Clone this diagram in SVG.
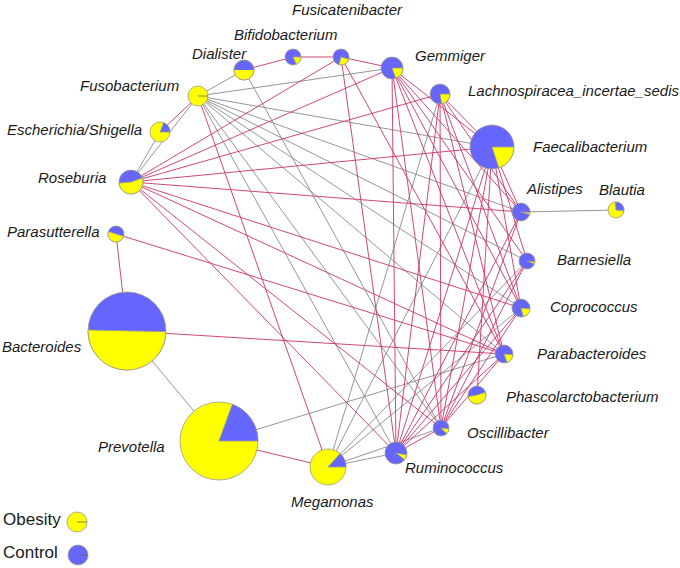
<svg xmlns="http://www.w3.org/2000/svg" width="680" height="568" viewBox="0 0 680 568">
<style>
.bg{fill:#ffffff}
.g line{stroke-width:0.9;fill:none}
.gr{stroke:#8a8a8a}
.rd{stroke:#cc3366}
.b{fill:#6666ff;stroke:#9a9a88;stroke-width:0.8}
.y{fill:#ffff00;stroke:#9a9a88;stroke-width:0.8}
.yw{fill:#ffff00;stroke:none}
.bw{fill:#6666ff;stroke:none}
.sp{stroke:#666;stroke-width:0.8}
.lb{font-family:"Liberation Sans",Arial,sans-serif;font-style:italic;font-size:15px;fill:#1a1a1a}
.lg{font-family:"Liberation Sans",Arial,sans-serif;font-size:17px;fill:#1a1a1a}
</style>
<rect class="bg" x="0" y="0" width="680" height="568"/>
<g id="connectors" class="g">
<line class="gr" x1="244" y1="70" x2="198" y2="96"/>
<line class="gr" x1="198" y1="96" x2="131" y2="182"/>
<line class="gr" x1="160" y1="132" x2="131" y2="182"/>
<line class="gr" x1="198" y1="96" x2="392" y2="68"/>
<line class="gr" x1="198" y1="96" x2="492" y2="147"/>
<line class="gr" x1="198" y1="96" x2="521" y2="212"/>
<line class="gr" x1="198" y1="96" x2="527" y2="261"/>
<line class="gr" x1="198" y1="96" x2="521" y2="308"/>
<line class="gr" x1="198" y1="96" x2="504" y2="354"/>
<line class="gr" x1="198" y1="96" x2="441" y2="428"/>
<line class="gr" x1="198" y1="96" x2="396" y2="453"/>
<line class="gr" x1="244" y1="70" x2="441" y2="428"/>
<line class="gr" x1="521" y1="212" x2="616" y2="210"/>
<line class="gr" x1="127" y1="331" x2="219" y2="441"/>
<line class="gr" x1="219" y1="441" x2="504" y2="354"/>
<line class="gr" x1="328" y1="467" x2="396" y2="453"/>
<line class="gr" x1="328" y1="467" x2="441" y2="428"/>
<line class="gr" x1="328" y1="467" x2="440" y2="94"/>
<line class="gr" x1="328" y1="467" x2="492" y2="147"/>
<line class="gr" x1="328" y1="467" x2="521" y2="308"/>
<line class="gr" x1="328" y1="467" x2="527" y2="261"/>
<line class="rd" x1="244" y1="70" x2="293" y2="57"/>
<line class="rd" x1="293" y1="57" x2="341" y2="57"/>
<line class="rd" x1="341" y1="57" x2="392" y2="68"/>
<line class="rd" x1="160" y1="132" x2="198" y2="96"/>
<line class="rd" x1="116" y1="234" x2="127" y2="331"/>
<line class="rd" x1="116" y1="234" x2="504" y2="354"/>
<line class="rd" x1="127" y1="331" x2="504" y2="354"/>
<line class="rd" x1="219" y1="441" x2="328" y2="467"/>
<line class="rd" x1="198" y1="96" x2="328" y2="467"/>
<line class="rd" x1="131" y1="182" x2="341" y2="57"/>
<line class="rd" x1="131" y1="182" x2="392" y2="68"/>
<line class="rd" x1="131" y1="182" x2="440" y2="94"/>
<line class="rd" x1="131" y1="182" x2="492" y2="147"/>
<line class="rd" x1="131" y1="182" x2="521" y2="212"/>
<line class="rd" x1="131" y1="182" x2="521" y2="308"/>
<line class="rd" x1="131" y1="182" x2="504" y2="354"/>
<line class="rd" x1="131" y1="182" x2="441" y2="428"/>
<line class="rd" x1="131" y1="182" x2="396" y2="453"/>
<line class="rd" x1="341" y1="57" x2="396" y2="453"/>
<line class="rd" x1="341" y1="57" x2="504" y2="354"/>
<line class="rd" x1="392" y1="68" x2="492" y2="147"/>
<line class="rd" x1="392" y1="68" x2="521" y2="212"/>
<line class="rd" x1="392" y1="68" x2="527" y2="261"/>
<line class="rd" x1="392" y1="68" x2="521" y2="308"/>
<line class="rd" x1="392" y1="68" x2="504" y2="354"/>
<line class="rd" x1="392" y1="68" x2="441" y2="428"/>
<line class="rd" x1="392" y1="68" x2="396" y2="453"/>
<line class="rd" x1="440" y1="94" x2="492" y2="147"/>
<line class="rd" x1="440" y1="94" x2="521" y2="212"/>
<line class="rd" x1="440" y1="94" x2="521" y2="308"/>
<line class="rd" x1="440" y1="94" x2="504" y2="354"/>
<line class="rd" x1="440" y1="94" x2="441" y2="428"/>
<line class="rd" x1="440" y1="94" x2="396" y2="453"/>
<line class="rd" x1="492" y1="147" x2="521" y2="212"/>
<line class="rd" x1="492" y1="147" x2="527" y2="261"/>
<line class="rd" x1="492" y1="147" x2="521" y2="308"/>
<line class="rd" x1="492" y1="147" x2="441" y2="428"/>
<line class="rd" x1="492" y1="147" x2="396" y2="453"/>
<line class="rd" x1="492" y1="147" x2="477" y2="395"/>
<line class="rd" x1="521" y1="212" x2="396" y2="453"/>
<line class="rd" x1="521" y1="212" x2="441" y2="428"/>
<line class="rd" x1="527" y1="261" x2="396" y2="453"/>
<line class="rd" x1="527" y1="261" x2="441" y2="428"/>
<line class="rd" x1="521" y1="308" x2="396" y2="453"/>
<line class="rd" x1="521" y1="308" x2="441" y2="428"/>
<line class="rd" x1="504" y1="354" x2="396" y2="453"/>
<line class="rd" x1="504" y1="354" x2="441" y2="428"/>
<line class="rd" x1="396" y1="453" x2="441" y2="428"/>
</g>
<g id="Dialister"><circle class="b" cx="244" cy="70" r="10"/><path class="yw" d="M254,70 A10,10 0 0 1 234,70 Z"/><circle cx="244" cy="70" r="10" fill="none" stroke="#9a9a88" stroke-width="0.8"/><text class="lb" x="192" y="59">Dialister</text></g>
<g id="Bifidobacterium"><circle class="b" cx="293" cy="57" r="8"/><path class="y" d="M293,57 L301,57 A8,8 0 0 1 296.38,64.25 Z"/><text class="lb" x="234" y="40">Bifidobacterium</text></g>
<g id="Fusicatenibacter"><circle class="b" cx="341" cy="57" r="8"/><path class="y" d="M341,57 L348.73,59.07 A8,8 0 0 1 338.93,64.73 Z"/><text class="lb" x="292" y="15">Fusicatenibacter</text></g>
<g id="Gemmiger"><circle class="b" cx="392" cy="68" r="11"/><path class="y" d="M392,68 L403,68 A11,11 0 0 1 395.76,78.34 Z"/><text class="lb" x="415" y="61">Gemmiger</text></g>
<g id="Lachnospiracea"><circle class="b" cx="440" cy="94" r="10"/><path class="y" d="M440,94 L450,94 A10,10 0 0 1 441.74,103.85 Z"/><text class="lb" x="468" y="96">Lachnospiracea_incertae_sedis</text></g>
<g id="Faecalibacterium"><circle class="b" cx="492" cy="147" r="22"/><path class="y" d="M492,147 L514,147 A22,22 0 0 1 498.80,167.92 Z"/><text class="lb" x="533" y="152">Faecalibacterium</text></g>
<g id="Alistipes"><circle class="b" cx="521" cy="212" r="9"/><path class="y" d="M521,212 L529.99,212.47 A9,9 0 0 1 529.61,214.63 Z"/><text class="lb" x="527" y="194">Alistipes</text></g>
<g id="Blautia"><circle class="y" cx="616" cy="210" r="8"/><path class="b" d="M616,210 L615.30,202.03 A8,8 0 0 1 623.97,210.70 Z"/><text class="lb" x="599" y="195">Blautia</text></g>
<g id="Barnesiella"><circle class="b" cx="527" cy="261" r="8"/><path class="y" d="M527,261 L534.97,261.70 A8,8 0 0 1 534.42,264.00 Z"/><text class="lb" x="557" y="265">Barnesiella</text></g>
<g id="Coprococcus"><circle class="b" cx="521" cy="308" r="9"/><path class="y" d="M521,308 L529.97,308.78 A9,9 0 0 1 523.33,316.69 Z"/><text class="lb" x="550" y="312">Coprococcus</text></g>
<g id="Parabacteroides"><circle class="b" cx="504" cy="354" r="9"/><path class="y" d="M504,354 L512.97,354.78 A9,9 0 0 1 507.08,362.46 Z"/><text class="lb" x="537" y="359">Parabacteroides</text></g>
<g id="Phascolarctobacterium"><circle class="b" cx="477" cy="395" r="9"/><path class="y" d="M477,395 L485.56,392.22 A9,9 0 1 1 468.14,396.56 Z"/><text class="lb" x="506" y="402">Phascolarctobacterium</text></g>
<g id="Oscillibacter"><circle class="b" cx="441" cy="428" r="8"/><path class="y" d="M441,428 L448.97,428.70 A8,8 0 0 1 446.66,433.66 Z"/><text class="lb" x="467" y="438">Oscillibacter</text></g>
<g id="Ruminococcus"><circle class="b" cx="396" cy="453" r="11"/><path class="y" d="M396,453 L406.83,454.91 A11,11 0 0 1 404.67,459.77 Z"/><text class="lb" x="405" y="473">Ruminococcus</text></g>
<g id="Megamonas"><circle class="y" cx="328" cy="467" r="18"/><path class="b" d="M328,467 L340.04,453.62 A18,18 0 0 1 346,467 Z"/><text class="lb" x="291" y="507">Megamonas</text></g>
<g id="Prevotella"><circle class="y" cx="219" cy="441" r="39"/><path class="b" d="M219,441 L232.34,404.35 A39,39 0 0 1 258,441 Z"/><text class="lb" x="98" y="452">Prevotella</text></g>
<g id="Bacteroides"><circle class="b" cx="127" cy="331" r="39"/><path class="y" d="M165.99,331.68 A39,39 0 1 1 88.01,329.98 Z"/><text class="lb" x="2" y="352">Bacteroides</text></g>
<g id="Parasutterella"><circle class="b" cx="116" cy="234" r="8"/><path class="y" d="M116,234 L123.69,236.21 A8,8 0 1 1 108.44,231.40 Z"/><text class="lb" x="7" y="237">Parasutterella</text></g>
<g id="Roseburia"><circle class="b" cx="131" cy="182" r="12"/><path class="y" d="M131,182 L142.28,177.90 A12,12 0 1 1 119.05,183.05 Z"/><text class="lb" x="38" y="183">Roseburia</text></g>
<g id="Escherichia"><circle class="y" cx="160" cy="132" r="10"/><path class="b" d="M160,132 L163.75,122.73 A10,10 0 0 1 170,132 Z"/><text class="lb" x="7" y="135">Escherichia/Shigella</text></g>
<g id="Fusobacterium"><circle class="y" cx="198" cy="96" r="10"/><line class="sp" x1="198" y1="96" x2="208" y2="96"/><text class="lb" x="80" y="91">Fusobacterium</text></g>
<g id="legend">
<text class="lg" x="3" y="525">Obesity</text>
<circle class="y" cx="77" cy="522" r="10"/><line class="sp" x1="77" y1="522" x2="87" y2="522"/>
<text class="lg" x="3" y="558">Control</text>
<circle class="b" cx="78" cy="555" r="10"/><line class="sp" x1="78" y1="555" x2="88" y2="555"/>
</g>
</svg>
